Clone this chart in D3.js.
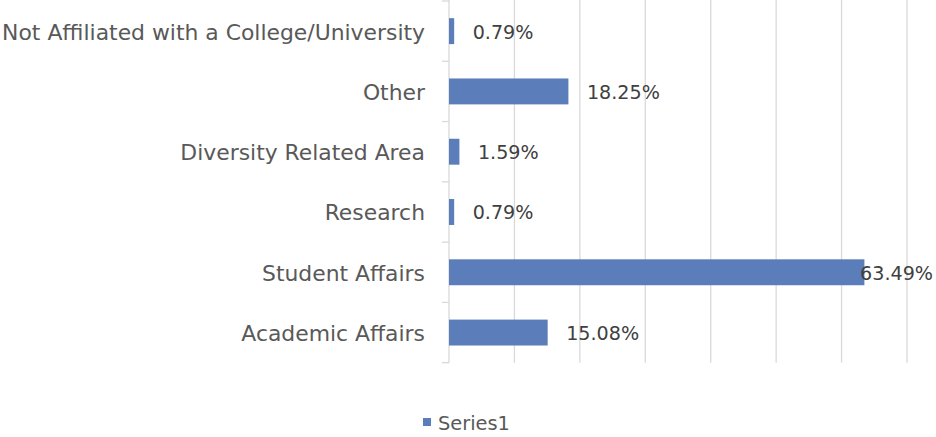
<!DOCTYPE html>
<html><head><meta charset="utf-8">
<script src="https://cdn.jsdelivr.net/npm/d3@7"></script>
<style>body{margin:0;background:#fff}svg{display:block}</style>
</head><body>
<svg id="c" width="936" height="437"></svg>
<script>
const categories = ["Not Affiliated with a College/University","Other","Diversity Related Area","Research","Student Affairs","Academic Affairs"];
const values = [0.79, 18.25, 1.59, 0.79, 63.49, 15.08];
const valueLabels = ["0.79%","18.25%","1.59%","0.79%","63.49%","15.08%"];
const xTicks = [0,10,20,30,40,50,60,70];
const seriesName = "Series1";

const svg = d3.select("#c");
const font = "'DejaVu Sans', sans-serif";
const x = d3.scaleLinear().domain([0,70]).range([449, 907]);
const y = d3.scaleBand().domain(categories).range([1, 362.7]).paddingInner(0.57).paddingOuter(0.285);
const yb = d3.scaleBand().domain(categories).range([1, 362.7]);

// gridlines
svg.append("g").selectAll("line").data(xTicks.slice(1)).join("line")
  .attr("x1", d=>x(d)).attr("x2", d=>x(d)).attr("y1", 0).attr("y2", 362.7)
  .attr("stroke", "#d9d9d9").attr("stroke-width", 1.3);

// y axis
svg.append("line").attr("x1", x(0)).attr("x2", x(0)).attr("y1", 0).attr("y2", 362.7).attr("stroke", "#d9d9d9").attr("stroke-width", 1.3);
const bounds = [1].concat(categories.map(c => yb(c) + yb.bandwidth()));
svg.append("g").selectAll("line").data(bounds).join("line")
  .attr("x1", x(0)-7).attr("x2", x(0)).attr("y1", d=>d).attr("y2", d=>d)
  .attr("stroke", "#d9d9d9").attr("stroke-width", 1.3);

// category labels
const cl = svg.append("g").selectAll("text").data(categories).join("text")
  .attr("x", 425).attr("y", d => yb(d) + yb.bandwidth()/2 + 1)
  .attr("text-anchor", "end").attr("dominant-baseline", "central")
  .attr("font-family", font).attr("font-size", 18).attr("fill", "#595959")
  .text(d => d);
const longest = cl.filter((d,i) => i === 0).node();
const fs = 18 * 423 / longest.getComputedTextLength();
cl.attr("font-size", fs);

// bars
svg.append("g").selectAll("rect").data(values).join("rect")
  .attr("x", x(0)).attr("y", (d,i) => y(categories[i]))
  .attr("width", d => x(d) - x(0)).attr("height", y.bandwidth())
  .attr("fill", "#5b7dba");

// value labels
const vl = svg.append("g").selectAll("text").data(values).join("text")
  .attr("y", (d,i) => yb(categories[i]) + yb.bandwidth()/2 + 1)
  .attr("dominant-baseline", "central")
  .attr("font-family", font).attr("font-size", 18).attr("fill", "#404040")
  .text((d,i) => valueLabels[i]);
const ref = vl.filter((d,i) => i === 1).node();
const vfs = 18 * 73 / ref.getComputedTextLength();
vl.attr("font-size", vfs);
vl.each(function(d){
  const w = this.getComputedTextLength();
  let px = x(d) + 18.5;
  if (px + w > 933) px = 933 - w;
  d3.select(this).attr("x", px);
});

// legend
svg.append("rect").attr("x", 423).attr("y", 418).attr("width", 8).attr("height", 8).attr("fill", "#5b7dba");
const lt = svg.append("text").attr("x", 438).attr("y", 423).attr("dominant-baseline", "central")
  .attr("font-family", font).attr("font-size", 18).attr("fill", "#595959").text(seriesName);
lt.attr("font-size", 18 * 72 / lt.node().getComputedTextLength());
</script>
</body></html>
